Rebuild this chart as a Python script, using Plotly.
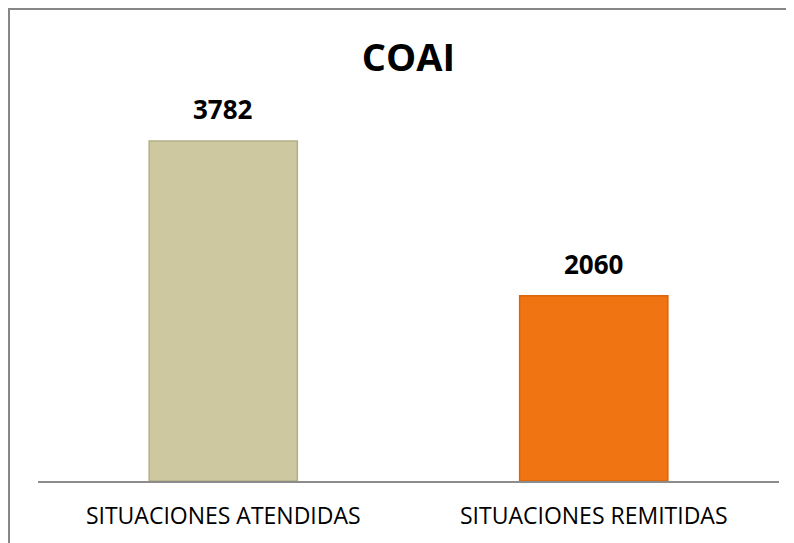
import plotly.graph_objects as go

categories = ["SITUACIONES ATENDIDAS", "SITUACIONES REMITIDAS"]
values = [3782, 2060]
bar_colors = ["#CDC8A0", "#F07412"]
line_colors = ["#B3AE86", "#D9650C"]
title_text = "COAI"

FONT = "Open Sans, sans-serif"

fig = go.Figure()
fig.add_trace(go.Bar(
    x=categories,
    y=values,
    width=0.40,
    marker=dict(color=bar_colors, line=dict(color=line_colors, width=1.5)),
    hoverinfo="skip",
))

for c, v in zip(categories, values):
    fig.add_annotation(
        x=c, y=v, text=f"<b>{v}</b>", showarrow=False,
        yanchor="bottom", yshift=12,
        font=dict(family=FONT, size=26, color="#000000"),
    )

# The page places the figure 8px from the window's top-left corner.
W, H = 786, 535
ml, mr, mt, mb = 30, 15, 113, 62
pw = W - ml - mr
ph = H - mt - mb

# Frame: only left and top edges fall inside the window
fx0 = (1 - ml) / pw
fx1 = (W - ml + 10) / pw
fy0 = -(mb + 10) / ph
fy1 = (H - mb - 1) / ph
frame_path = f"M {fx0},{fy0} L {fx0},{fy1} L {fx1},{fy1}"

fig.update_layout(
    width=W, height=H,
    margin=dict(l=ml, r=mr, t=mt, b=mb, autoexpand=False),
    paper_bgcolor="white", plot_bgcolor="white",
    showlegend=False,
    title=dict(
        text=f"<b>{title_text}</b>",
        x=0.5, xref="paper", xanchor="center",
        y=1 - 50 / H, yanchor="middle",
        font=dict(family=FONT, size=38, color="#000000"),
    ),
    xaxis=dict(
        range=[-0.5, 1.5], showgrid=False, zeroline=False, automargin=False,
        showline=True, linecolor="#8C8C8C", linewidth=1.5,
        ticks="", tickfont=dict(family=FONT, size=23, color="#000000"),
        ticklabelstandoff=14,
    ),
    yaxis=dict(
        range=[0, 4005], visible=False, showgrid=False, zeroline=False,
        automargin=False,
    ),
    shapes=[dict(
        type="path", xref="paper", yref="paper", path=frame_path,
        line=dict(color="#878787", width=2),
        layer="below",
    )],
)

fig.write_html(
    "out.html",
    post_script=(
        "document.documentElement.style.overflow='hidden';"
        "document.body.style.overflow='hidden';"
    ),
)
